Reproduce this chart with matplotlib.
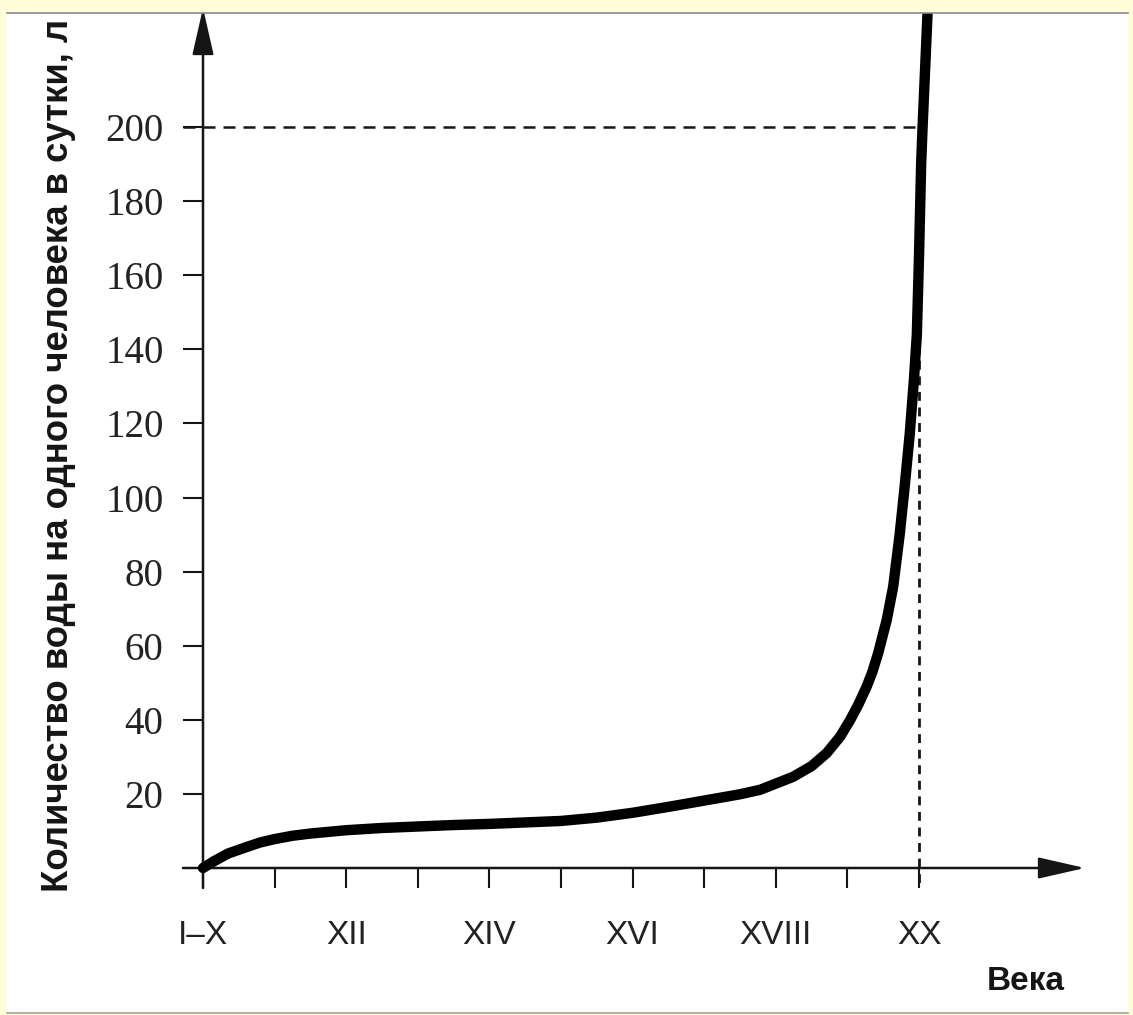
import matplotlib.pyplot as plt
from matplotlib import font_manager
from matplotlib.patches import Rectangle
from matplotlib.lines import Line2D

# water use per person per day, litres, by century (0 = I-X ... 10 = XX)
century = [0, 0.15, 0.35, 0.6, 0.8, 1, 1.25, 1.5, 2, 2.5, 3, 3.5, 4, 4.5, 5, 5.5, 6,
           6.5, 7, 7.5, 7.78, 8.24, 8.5, 8.71, 8.9, 9.04, 9.15, 9.27, 9.35, 9.43,
           9.55, 9.64, 9.73, 9.8, 9.87, 9.93, 9.97, 10.0, 10.03, 10.05, 10.12, 10.14]
water = [0, 1.8, 3.9, 5.6, 6.9, 7.8, 8.7, 9.3, 10.2, 10.8, 11.2, 11.6, 11.9, 12.3, 12.7,
         13.6, 14.9, 16.5, 18.2, 19.9, 21.1, 24.6, 27.5, 31, 35.5, 40, 44, 49, 53, 58,
         67, 76, 90, 103, 117, 132, 144, 165, 190, 200, 231, 240]

x_major = [0, 2, 4, 6, 8, 10]
x_minor = [1, 3, 5, 7, 9]
x_labels = ['I–X', 'XII', 'XIV', 'XVI', 'XVIII', 'XX']
y_ticks = [20, 40, 60, 80, 100, 120, 140, 160, 180, 200]
y_labels = ['20', '40', '60', '80', '100', '120', '140', '160', '180', '200']

W, H = 1133, 1015
yellow = '#FFFDD8'
ink = '#151515'

names = {f.name for f in font_manager.fontManager.ttflist}
narrow = 'Liberation Sans Narrow' if 'Liberation Sans Narrow' in names else 'Liberation Sans'

fig = plt.figure(figsize=(W / 100, H / 100), dpi=100, facecolor=yellow)

# white page inside the yellow frame
fig.add_artist(Rectangle((7 / W, 2 / H), 1121 / W, 1000 / H, transform=fig.transFigure,
                         facecolor='white', edgecolor='none', zorder=0))
fig.add_artist(Rectangle((0, 1002 / H), 1, 13 / H, transform=fig.transFigure,
                         facecolor=yellow, edgecolor='none', zorder=10))
fig.add_artist(Line2D([7 / W, 1128 / W], [1002 / H, 1002 / H], transform=fig.transFigure,
                      color='#8a8a8a', lw=1.2, zorder=11))
fig.add_artist(Line2D([7 / W, 1128 / W], [2 / H, 2 / H], transform=fig.transFigure,
                      color='#a0a0a0', lw=1.2, zorder=11))

ax = fig.add_axes([203 / W, 147 / H, 882 / W, 855 / H])
ax.set_facecolor('none')
ax.set_xlim(0, 882 / 71.6)
ax.set_ylim(0, 855 / 3.705)
for s in ax.spines.values():
    s.set_visible(False)

# axes with arrows
ax.annotate('', xy=(882 / 71.6, 0), xytext=(-0.28, 0), annotation_clip=False,
            arrowprops=dict(arrowstyle='-|>,head_length=1.45,head_width=0.33',
                            mutation_scale=20, lw=1.8, color=ink, shrinkA=0, shrinkB=0))
ax.annotate('', xy=(0, 860 / 3.705), xytext=(0, -5.4), annotation_clip=False,
            arrowprops=dict(arrowstyle='-|>,head_length=1.45,head_width=0.33',
                            mutation_scale=20, lw=1.8, color=ink, shrinkA=0, shrinkB=0))

# ticks
ax.set_xticks(x_major)
ax.set_xticklabels(x_labels, family=[narrow, 'DejaVu Sans'], fontsize=24, color='#222222')
ax.set_xticks(x_minor, minor=True)
ax.set_yticks(y_ticks)
ax.set_yticklabels(y_labels, family='Liberation Serif', fontsize=28, color='#222222')
ax.tick_params(axis='both', which='both', direction='out', length=14.4, width=1.5, color=ink)
ax.tick_params(axis='x', pad=23)
ax.tick_params(axis='y', pad=14)

# guide lines to 200 l in the XX century
ax.plot([-0.28, 10.0], [200, 200], color=ink, lw=1.8, dashes=(4.8, 3.2), clip_on=False)
ax.plot([10, 10], [200, -5.4], color=ink, lw=2.0, dashes=(3.2, 2.4), clip_on=False)

# the curve
ax.plot(century, water, color='black', lw=7.5, solid_capstyle='round',
        solid_joinstyle='round', clip_on=False, zorder=5)

fig.text(59 / W, 1 - 892 / H, 'Количество воды на одного человека в сутки, л',
         rotation=90, ha='center', va='bottom', fontsize=26.4, fontweight='bold',
         family='Liberation Sans', color=ink, zorder=5)
fig.text(1026 / W, 1 - 981 / H, 'Века', ha='center', va='center', fontsize=24,
         fontweight='bold', family='Liberation Sans', color=ink)

fig.savefig('out.png', dpi=100, facecolor=yellow)
